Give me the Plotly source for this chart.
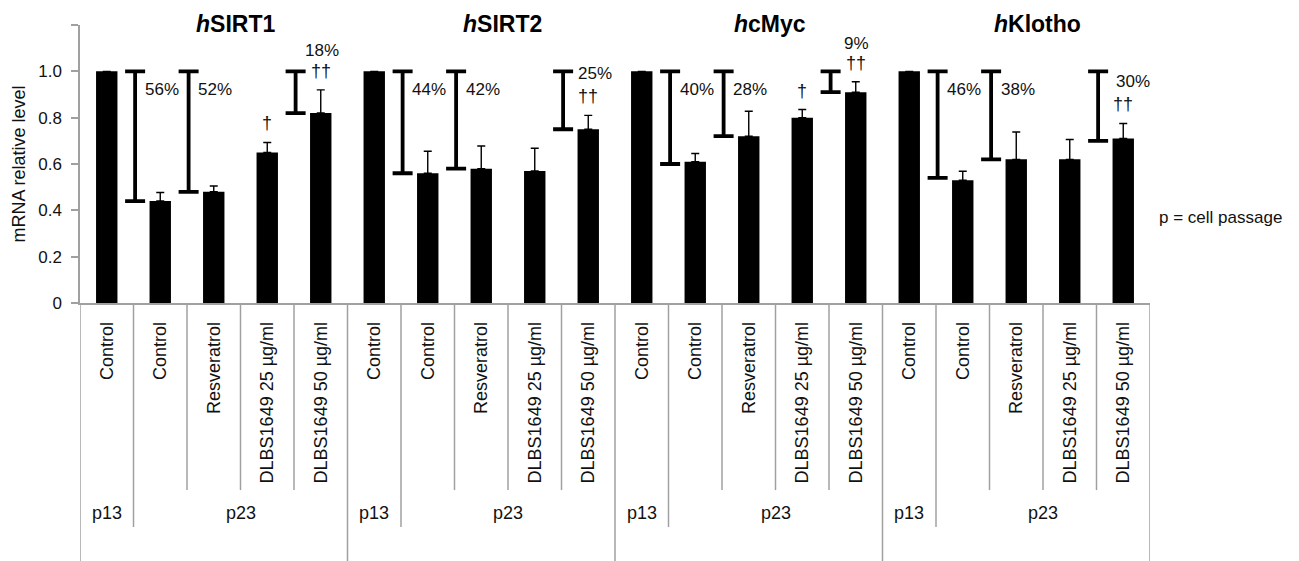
import plotly.graph_objects as go

# --- data -----------------------------------------------------------------
genes = ["SIRT1", "SIRT2", "cMyc", "Klotho"]
treatments = ["Control", "Control", "Resveratrol",
              "DLBS1649 25 µg/ml", "DLBS1649 50 µg/ml"]
passage_labels = ["p13", "p23"]

# mean mRNA relative level per treatment (one list per gene)
sirt1_mean = [1.0, 0.44, 0.48, 0.65, 0.82]
sirt2_mean = [1.0, 0.56, 0.58, 0.57, 0.75]
cmyc_mean = [1.0, 0.61, 0.72, 0.80, 0.91]
klotho_mean = [1.0, 0.53, 0.62, 0.62, 0.71]

# upper error (SD) per treatment
sirt1_err = [None, 0.037, 0.025, 0.043, 0.10]
sirt2_err = [None, 0.095, 0.098, 0.098, 0.06]
cmyc_err = [None, 0.035, 0.108, 0.035, 0.045]
klotho_err = [None, 0.039, 0.118, 0.086, 0.065]

# percent decrease vs. p13 control, shown by the I-beam brackets
sirt1_drop = [None, 56, 52, None, 18]
sirt2_drop = [None, 44, 42, None, 25]
cmyc_drop = [None, 40, 28, None, 9]
klotho_drop = [None, 46, 38, None, 30]

# significance marks
sirt1_sig = ["", "", "", "†", "††"]
sirt2_sig = ["", "", "", "", "††"]
cmyc_sig = ["", "", "", "†", "††"]
klotho_sig = ["", "", "", "", "††"]

means = [sirt1_mean, sirt2_mean, cmyc_mean, klotho_mean]
errs = [sirt1_err, sirt2_err, cmyc_err, klotho_err]
drops = [sirt1_drop, sirt2_drop, cmyc_drop, klotho_drop]
sigs = [sirt1_sig, sirt2_sig, cmyc_sig, klotho_sig]

# --- styling --------------------------------------------------------------
FONT = "Arial, Liberation Sans, sans-serif"
TXT = "#111111"
GRID = "#a0a0a0"
n_t = len(treatments)
# placement of the label on the last bracket, per gene
last_pct_dx = [0.02, 0.12, 0.02, 0.19]
last_pct_dy = [0.09, 0.10, 0.082, 0.10]

fig = go.Figure()

x_all, y_all, e_all = [], [], []
for g in range(len(genes)):
    for t in range(n_t):
        x_all.append(g * n_t + t)
        y_all.append(means[g][t])
        e_all.append(errs[g][t])

fig.add_trace(go.Bar(
    x=x_all, y=y_all, width=0.4,
    marker=dict(color="black", line=dict(width=0)),
    error_y=dict(type="data", symmetric=False, array=e_all,
                 arrayminus=[0] * len(e_all),
                 color="black", thickness=1.4, width=4),
    showlegend=False, hoverinfo="skip",
))

# I-beam brackets spanning from the p13 control level down to each reduced level
bx, by, be = [], [], []
annotations = []
for g in range(len(genes)):
    ref = means[g][0]
    for t in range(n_t):
        xi = g * n_t + t
        d = drops[g][t]
        if d is not None:
            low = ref - d / 100.0
            bx.append(xi - 0.47)
            by.append((ref + low) / 2)
            be.append((ref - low) / 2)
        top = means[g][t] + (errs[g][t] or 0)
        sig_y = top + 0.082
        if sigs[g][t]:
            annotations.append(dict(
                x=xi, y=sig_y, xref="x", yref="y", text=sigs[g][t],
                showarrow=False, xanchor="center", yanchor="middle",
                font=dict(size=18, color=TXT, family=FONT)))
        if d is not None:
            if t == n_t - 1:
                annotations.append(dict(
                    x=xi + last_pct_dx[g], y=sig_y + last_pct_dy[g],
                    xref="x", yref="y",
                    text=f"{d}%", showarrow=False, xanchor="center",
                    yanchor="middle",
                    font=dict(size=17, color=TXT, family=FONT)))
            else:
                annotations.append(dict(
                    x=xi - 0.33, y=0.92, xref="x", yref="y",
                    text=f"{d}%", showarrow=False, xanchor="left",
                    yanchor="middle",
                    font=dict(size=17, color=TXT, family=FONT)))

fig.add_trace(go.Scatter(
    x=bx, y=by, mode="markers",
    marker=dict(size=1, color="rgba(0,0,0,0)"),
    error_y=dict(type="data", array=be, color="black",
                 thickness=3.8, width=10),
    showlegend=False, hoverinfo="skip",
))

# gene titles
for g, name in enumerate(genes):
    annotations.append(dict(
        x=g * n_t + 2.4, y=1.004, xref="x", yref="paper",
        text=f"<b><i>h</i>{name}</b>", showarrow=False,
        xanchor="center", yanchor="middle",
        font=dict(size=23, color="black", family=FONT)))

# passage row
Y_INNER = -0.673
Y_PASS = -0.806
Y_BOTTOM = -1.0
for g in range(len(genes)):
    annotations.append(dict(
        x=g * n_t, y=-0.755, xref="x", yref="paper", text=passage_labels[0],
        showarrow=False, xanchor="center", yanchor="middle",
        font=dict(size=18, color=TXT, family=FONT)))
    annotations.append(dict(
        x=g * n_t + 2.5, y=-0.755, xref="x", yref="paper",
        text=passage_labels[1], showarrow=False, xanchor="center",
        yanchor="middle", font=dict(size=18, color=TXT, family=FONT)))

annotations.append(dict(
    x=1.0065, y=0.309, xref="paper", yref="paper", text="p = cell passage",
    showarrow=False, xanchor="left", yanchor="middle",
    font=dict(size=17, color=TXT, family=FONT)))

# category divider lines below the axis
shapes = []
for g in range(len(genes) + 1):
    shapes.append(dict(type="line", xref="x", yref="paper",
                       x0=g * n_t - 0.5, x1=g * n_t - 0.5, y0=0, y1=Y_BOTTOM,
                       line=dict(color=GRID, width=1.5)))
for g in range(len(genes)):
    shapes.append(dict(type="line", xref="x", yref="paper",
                       x0=g * n_t + 0.5, x1=g * n_t + 0.5, y0=0, y1=Y_PASS,
                       line=dict(color=GRID, width=1.5)))
    for t in range(2, n_t):
        shapes.append(dict(type="line", xref="x", yref="paper",
                           x0=g * n_t + t - 0.5, x1=g * n_t + t - 0.5,
                           y0=0, y1=Y_INNER,
                           line=dict(color=GRID, width=1.5)))

tick_text = [treatments[i % n_t] for i in range(len(x_all))]

fig.update_layout(
    width=1299, height=561,
    margin=dict(l=80, r=149, t=25, b=258, autoexpand=False),
    paper_bgcolor="white", plot_bgcolor="white",
    font=dict(family=FONT, color=TXT),
    annotations=annotations, shapes=shapes,
    bargap=0.6,
    xaxis=dict(range=[-0.5, len(x_all) - 0.5], tickvals=x_all,
               ticktext=tick_text, tickangle=-90, ticks="",
               tickfont=dict(size=18, color=TXT, family=FONT),
               ticklabelstandoff=10,
               showline=True, linecolor=GRID, linewidth=1.5,
               showgrid=False, zeroline=False, fixedrange=True),
    yaxis=dict(range=[0, 1.2],
               tickvals=[0, 0.2, 0.4, 0.6, 0.8, 1.0, 1.2],
               ticktext=["0", "0.2", "0.4", "0.6", "0.8", "1.0", ""],
               ticks="outside", ticklen=7, tickcolor=GRID, tickwidth=1.5,
               tickfont=dict(size=17, color=TXT, family=FONT),
               ticklabelstandoff=6,
               showline=True, linecolor=GRID, linewidth=1.5,
               showgrid=False, zeroline=False, fixedrange=True,
               title=dict(text="mRNA relative level", standoff=8,
                          font=dict(size=18, color=TXT, family=FONT))),
)

fig.write_html("out.html")
